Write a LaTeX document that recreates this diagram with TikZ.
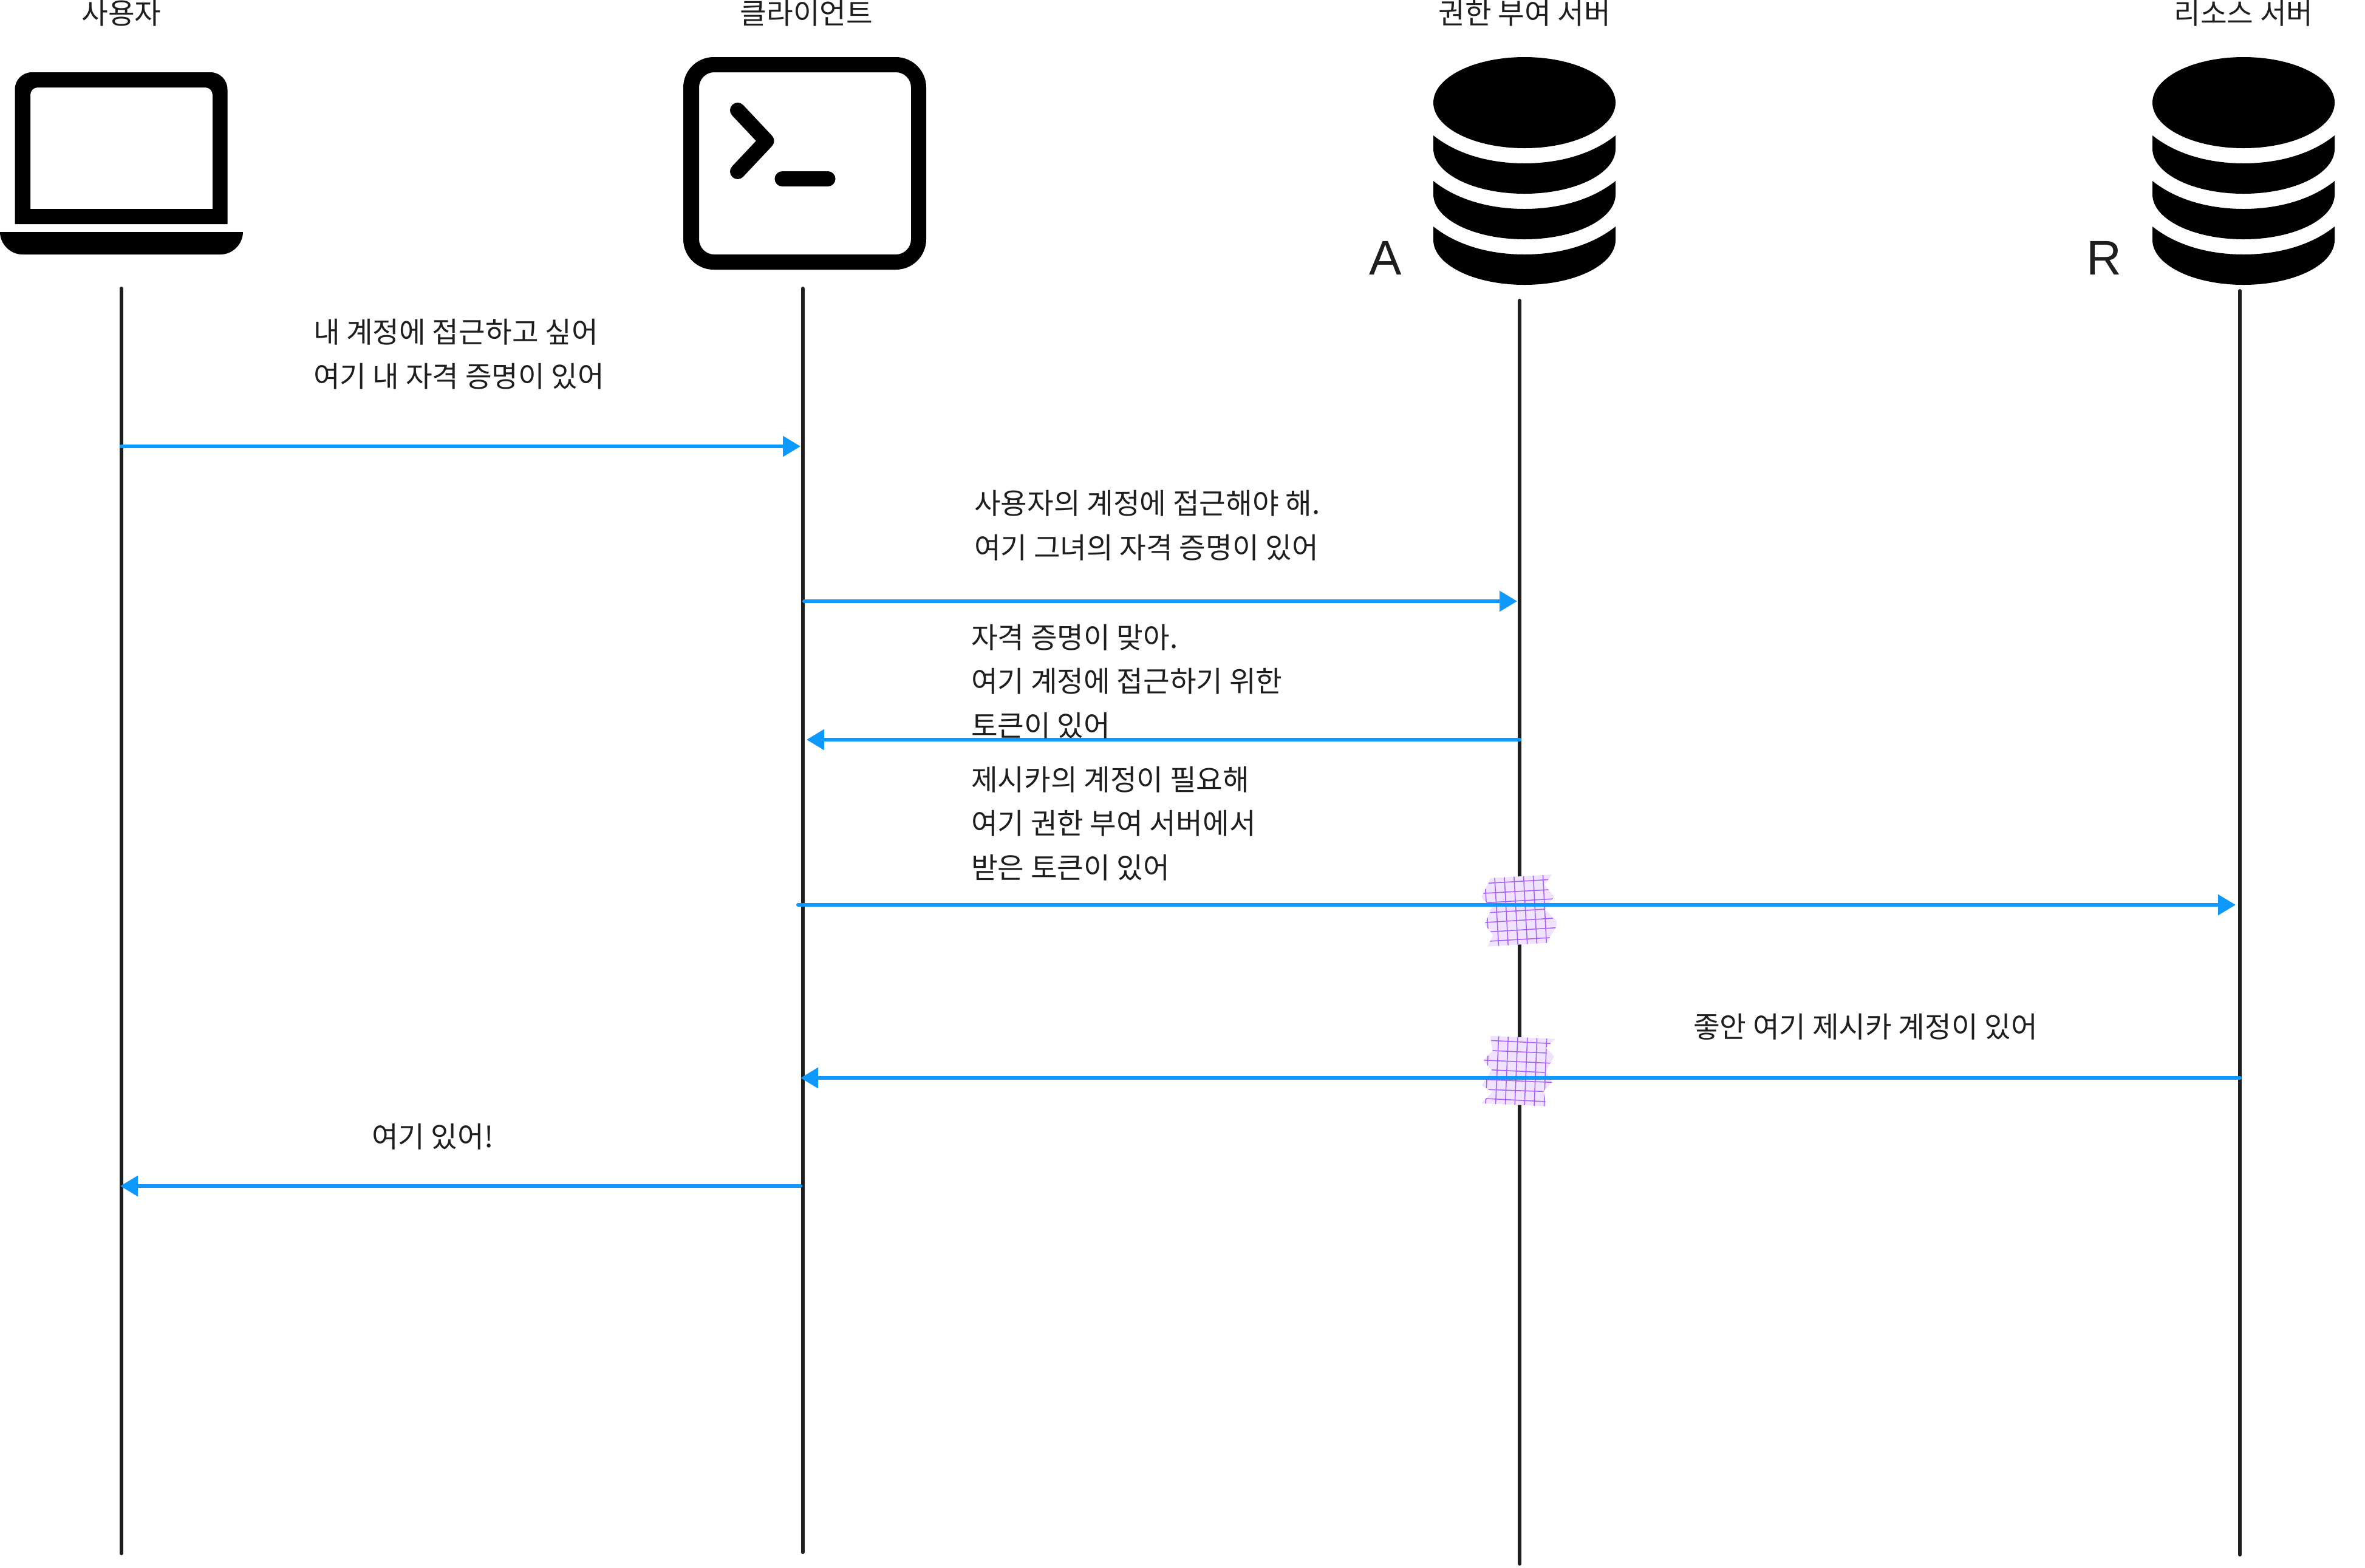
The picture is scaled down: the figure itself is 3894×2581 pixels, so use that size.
\documentclass[tikz,border=0pt]{standalone}
\usepackage{fontspec}
\setmainfont{Noto Sans CJK KR}
\newfontfamily\tagfont{Liberation Sans}
\usetikzlibrary{arrows.meta}
\definecolor{ink}{HTML}{1E1E1E}
\definecolor{msgblue}{HTML}{0D99FF}
\definecolor{tapefill}{HTML}{EFE3FF}
\definecolor{tapeline}{HTML}{A65FFF}
\tikzset{
  x=0.01cm,y=-0.01cm,
  lifeline/.style={draw=ink,line width=0.06cm,line cap=round},
  msg/.style={draw=msgblue,line width=0.06cm,line cap=round,-{Triangle[length=0.29cm,width=0.33cm,fill=msgblue]}},
  label/.style={font=\fontsize{13.5}{20.49}\selectfont,text=ink,inner sep=0pt,outer sep=0pt,align=left,anchor=base west},
  header/.style={font=\fontsize{13.5}{20.49}\selectfont,text=ink,inner sep=0pt,outer sep=0pt,anchor=base},
  tag/.style={font=\tagfont\fontsize{22.76}{26}\selectfont,text=ink,inner sep=0pt,outer sep=0pt,anchor=base west},
  icon/.style={fill=black},
  tapeedge/.style={draw=tapeline,line width=0.015cm},
}
\newcommand{\dbicon}[1]{%
  \begin{scope}[shift={(#1,0)}]
    \fill[icon] (0,169) ellipse [x radius=150,y radius=75];
    \foreach \dy in {0,75,150}{
      \fill[icon] (-150,223+\dy) .. controls (-110,255+\dy) and (-55,269+\dy) .. (0,269+\dy)
        .. controls (55,269+\dy) and (110,255+\dy) .. (150,223+\dy)
        -- (150,245+\dy) .. controls (150,286+\dy) and (83,319+\dy) .. (0,319+\dy)
        .. controls (-83,319+\dy) and (-150,286+\dy) .. (-150,245+\dy) -- cycle;
    }
  \end{scope}}
\begin{document}
\begin{tikzpicture}
\useasboundingbox (0,0) rectangle (3894,2581);
\fill[white] (0,0) rectangle (3894,2581);

% lifeline end points
\coordinate (u1) at (199.5,475);  \coordinate (u2) at (199.5,2558);
\coordinate (c1) at (1321.5,475); \coordinate (c2) at (1321.5,2556);
\coordinate (a1) at (2502,495);   \coordinate (a2) at (2502,2575);
\coordinate (r1) at (3688,479);   \coordinate (r2) at (3688,2560);
\draw[lifeline] (u1) -- (u2);
\draw[lifeline] (c1) -- (c2);
\draw[lifeline] (a1) -- (a2);
\draw[lifeline] (r1) -- (r2);

% laptop
\fill[icon,even odd rule]
  (24.5,369) [rounded corners=0.28cm] -- (24.5,119) -- (374.5,119) [sharp corners] -- (374.5,369) -- cycle
  (50,344) [rounded corners=0.12cm] -- (50,144) -- (350,144) [sharp corners] -- (350,344) -- cycle;
\fill[icon] (0,382) -- (400,382) .. controls (400,402) and (383,419) .. (363,419)
  -- (37,419) .. controls (17,419) and (0,402) .. (0,382) -- cycle;

% terminal
\fill[icon,even odd rule]
  [rounded corners=0.5cm] (1125,94) rectangle (1525,444)
  [rounded corners=0.25cm] (1151,119) rectangle (1500,419);
\draw[black,line width=0.25cm,line cap=round,line join=round]
  (1214.5,181.5) -- (1262,232) -- (1214.5,282.5);
\draw[black,line width=0.25cm,line cap=round] (1288,294.5) -- (1363,294.5);

% databases
\dbicon{2510}
\dbicon{3694}

% tape patches
\begin{scope}[shift={(2380,1400)},x=0.01cm/3,y=-0.01cm/3]
  \path[fill=tapefill] (222,138) -- (525,120) -- (490,170) -- (508,195) -- (537,230) -- (505,270)
    -- (490,295) -- (510,310) -- (549,350) -- (548,375) -- (500,458) -- (207,476) -- (235,420)
    -- (193,365) -- (228,285) -- (177,232) -- cycle;
  \begin{scope}
    \clip (222,138) -- (525,120) -- (490,170) -- (508,195) -- (537,230) -- (505,270)
    -- (490,295) -- (510,310) -- (549,350) -- (548,375) -- (500,458) -- (207,476) -- (235,420)
    -- (193,365) -- (228,285) -- (177,232) -- cycle;
    \foreach \a/\b in {242/263,290/310,338/358,385/405,433/452,481/500}
      \draw[tapeedge] (\a,120) -- (\b,480);
    \draw[tapeedge] (197,190) -- (210,392);
    \draw[tapeedge] (212,163) -- (512,145);
    \draw[tapeedge] (187,213) -- (510,195);
    \draw[tapeedge] (190,260) -- (535,240);
    \draw[tapeedge] (220,308) -- (510,290);
    \draw[tapeedge] (196,357) -- (530,336);
    \draw[tapeedge] (222,403) -- (545,383);
    \draw[tapeedge] (210,450) -- (518,432);
  \end{scope}
\end{scope}
\begin{scope}[shift={(2380,1680)},x=0.01cm/3,y=-0.01cm/3]
  \path[fill=tapefill] (220,77) -- (541,92) -- (497,137) -- (537,178) -- (495,255) -- (527,305)
    -- (485,350) -- (497,425) -- (177,410) -- (232,355) -- (180,322) -- (228,245) -- (187,200)
    -- (232,150) -- cycle;
  \begin{scope}
    \clip (220,77) -- (541,92) -- (497,137) -- (537,178) -- (495,255) -- (527,305)
    -- (485,350) -- (497,425) -- (177,410) -- (232,355) -- (180,322) -- (228,245) -- (187,200)
    -- (232,150) -- cycle;
    \foreach \a/\b in {263/247,310/295,357/342,405/390,452/438,500/487}
      \draw[tapeedge] (\a,75) -- (\b,427);
    \draw[tapeedge] (210,175) -- (198,412);
    \draw[tapeedge] (225,100) -- (522,115);
    \draw[tapeedge] (232,150) -- (500,162);
    \draw[tapeedge] (190,197) -- (518,212);
    \draw[tapeedge] (226,245) -- (490,258);
    \draw[tapeedge] (203,293) -- (527,307);
    \draw[tapeedge] (200,342) -- (485,352);
    \draw[tapeedge] (200,387) -- (495,402);
  \end{scope}
\end{scope}

% messages
\coordinate (m1a) at (199.5,735);  \coordinate (m1b) at (1318,735);
\coordinate (m2a) at (1324,990);   \coordinate (m2b) at (2498,990);
\coordinate (m3a) at (2502,1218);  \coordinate (m3b) at (1328,1218);
\coordinate (m4a) at (1314,1490);  \coordinate (m4b) at (3681,1490);
\coordinate (m5a) at (3688,1775);  \coordinate (m5b) at (1318,1775);
\coordinate (m6a) at (1318,1953);  \coordinate (m6b) at (198,1953);
\draw[msg] (m1a) -- (m1b);
\draw[msg] (m2a) -- (m2b);
\draw[msg] (m3a) -- (m3b);
\draw[msg] (m4a) -- (m4b);
\draw[msg] (m5a) -- (m5b);
\draw[msg] (m6a) -- (m6b);

% headers
\node[header] (huser) at (200,39) {사용자};
\node[header] (hclient) at (1328,39) {클라이언트};
\node[header] (hauth) at (2510,39) {권한 부여 서버};
\node[header] (hres) at (3694,39) {리소스 서버};
\node[tag] (tagA) at (2254,452) {A};
\node[tag] (tagR) at (3435,452) {R};

% message labels
\node[label] (t1) at (516,637) {내 계정에 접근하고 싶어\\여기 내 자격 증명이 있어};
\node[label] (t2) at (1604,919) {사용자의 계정에 접근해야 해.\\여기 그녀의 자격 증명이 있어};
\node[label] (t3) at (1599,1212) {자격 증명이 맞아.\\여기 계정에 접근하기 위한\\토큰이 있어};
\node[label] (t4) at (1599,1446) {제시카의 계정이 필요해\\여기 권한 부여 서버에서\\받은 토큰이 있어};
\node[label] (t5) at (2788,1708) {좋안 여기 제시카 계정이 있어};
\node[label] (t6) at (612,1889) {여기 있어!};
\end{tikzpicture}
\end{document}
